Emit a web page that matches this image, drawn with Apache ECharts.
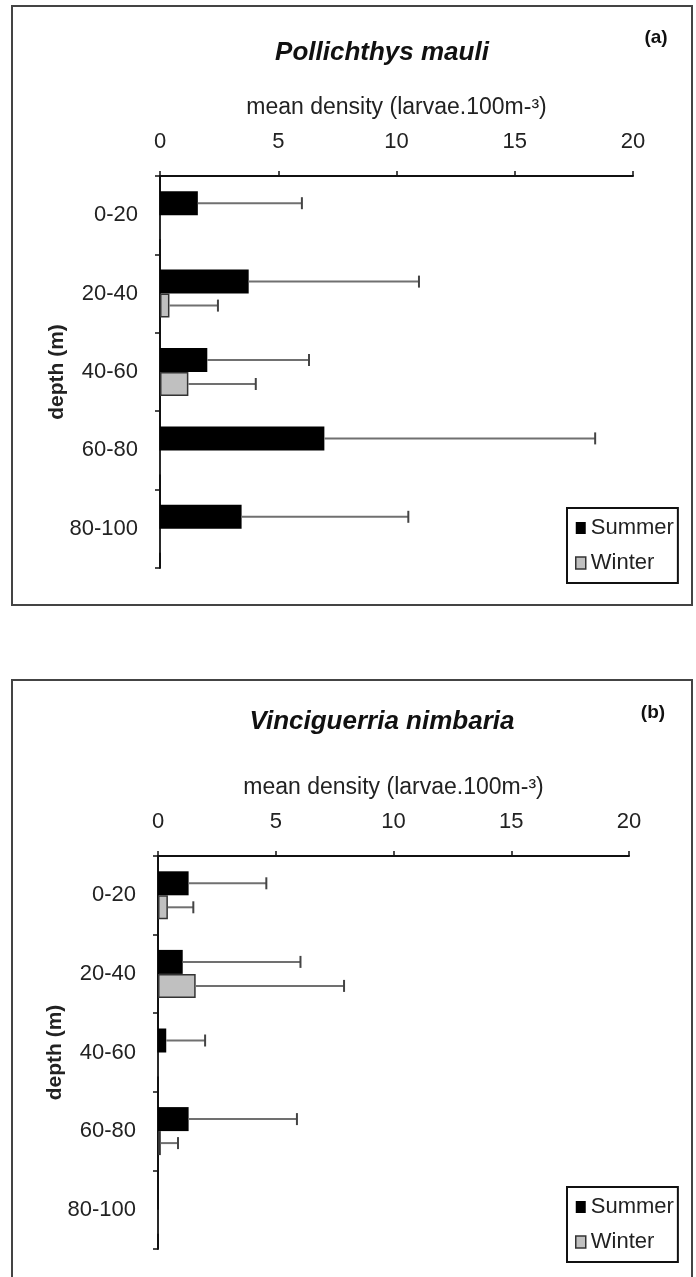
<!DOCTYPE html>
<html>
<head>
<meta charset="utf-8">
<script src="https://cdn.jsdelivr.net/npm/echarts@6/dist/echarts.min.js"></script>
<style>
html,body{margin:0;padding:0;background:#fff;}
#chart{width:696px;height:1277px;}
</style>
</head>
<body>
<div id="chart"></div>
<script>
// ---- data ----
const depthCats = ['0-20', '20-40', '40-60', '60-80', '80-100'];
const seasons = ['Summer', 'Winter'];
const panelTitles = ['Pollichthys mauli', 'Vinciguerria nimbaria'];
const panelTags = ['(a)', '(b)'];
const xAxisName = 'mean density (larvae.100m-\u00b3)';
const yAxisName = 'depth (m)';

// panel (a) Pollichthys mauli
const aSummer = [1.6, 3.75, 2.0, 6.95, 3.45];
const aSummerUpper = [6.0, 10.95, 6.3, 18.4, 10.5];
const aWinter = [0, 0.4, 1.2, 0, 0];
const aWinterUpper = [null, 2.45, 4.05, null, null];

// panel (b) Vinciguerria nimbaria
const bSummer = [1.3, 1.05, 0.35, 1.3, 0];
const bSummerUpper = [4.6, 6.05, 2.0, 5.9, null];
const bWinter = [0.42, 1.6, 0, 0.12, 0];
const bWinterUpper = [1.5, 7.9, null, 0.85, null];

// ---- chart ----
const FONT = 'Liberation Sans, Arial, sans-serif';
const chart = echarts.init(document.getElementById('chart'), null, {renderer: 'canvas'});

function errData(vals, ups) {
  const out = [];
  vals.forEach((v, i) => { if (ups[i] != null) out.push([i, v, ups[i]]); });
  return out;
}
function errRender(sign) {
  return function (params, api) {
    const idx = api.value(0);
    const s = api.coord([api.value(1), idx]);
    const e = api.coord([api.value(2), idx]);
    const y = s[1] + sign * 12;
    return {
      type: 'group',
      children: [
        {type: 'line', shape: {x1: s[0], y1: y, x2: e[0], y2: y}, style: {stroke: '#707070', lineWidth: 2}},
        {type: 'line', shape: {x1: e[0], y1: y - 6, x2: e[0], y2: y + 6}, style: {stroke: '#444', lineWidth: 2}}
      ]
    };
  };
}

const grids = [
  {left: 160, top: 176, width: 473, height: 392},
  {left: 158, top: 856, width: 471, height: 393}
];

function xAx(gi) {
  return {
    type: 'value', gridIndex: gi, position: 'top', min: 0, max: 20, interval: 5,
    name: xAxisName, nameLocation: 'middle', nameGap: 57,
    nameTextStyle: {fontFamily: FONT, fontSize: 23, color: '#222'},
    axisLine: {show: true, lineStyle: {color: '#111', width: 2}},
    axisTick: {show: true, length: 5, lineStyle: {color: '#111', width: 1.5}},
    axisLabel: {fontFamily: FONT, fontSize: 22, color: '#222', margin: 23},
    splitLine: {show: false}
  };
}
function yAx(gi) {
  return {
    type: 'category', gridIndex: gi, inverse: true, data: depthCats,
    name: yAxisName, nameLocation: 'middle', nameGap: 92, nameRotate: 90,
    nameMoveOverlap: false,
    nameTextStyle: {fontFamily: FONT, fontSize: 21, fontWeight: 'bold', color: '#222'},
    axisLine: {show: true, lineStyle: {color: '#111', width: 2}},
    axisTick: {show: true, length: 5, lineStyle: {color: '#111', width: 1.5}},
    axisLabel: {fontFamily: FONT, fontSize: 22, color: '#222', margin: 22}
  };
}

const summerStyle = {color: '#000', borderWidth: 0};
const winterStyle = {color: '#c0c0c0', borderColor: '#333', borderWidth: 1.5};

const panels = [
  {s: aSummer, su: aSummerUpper, w: aWinter, wu: aWinterUpper},
  {s: bSummer, su: bSummerUpper, w: bWinter, wu: bWinterUpper}
];

const series = [];
panels.forEach((p, gi) => {
  series.push({name: seasons[0], type: 'bar', xAxisIndex: gi, yAxisIndex: gi, data: p.s,
    barWidth: 24, barGap: '0%', itemStyle: summerStyle});
  series.push({name: seasons[1], type: 'bar', xAxisIndex: gi, yAxisIndex: gi, data: p.w,
    barWidth: 24, barGap: '0%', itemStyle: winterStyle});
  series.push({name: 'err-s-' + gi, type: 'custom', xAxisIndex: gi, yAxisIndex: gi,
    data: errData(p.s, p.su), encode: {x: [1, 2], y: 0}, renderItem: errRender(-1), z: 3});
  series.push({name: 'err-w-' + gi, type: 'custom', xAxisIndex: gi, yAxisIndex: gi,
    data: errData(p.w, p.wu), encode: {x: [1, 2], y: 0}, renderItem: errRender(1), z: 3});
});

function legend(top) {
  return {
    data: [
      {name: seasons[0], icon: 'rect', itemStyle: {color: '#000', borderWidth: 0}},
      {name: seasons[1], icon: 'rect', itemStyle: {color: '#c0c0c0', borderColor: '#333', borderWidth: 1.5}}
    ],
    orient: 'vertical', left: 567, top: top,
    padding: [9, 4, 9, 8], itemGap: 13, itemWidth: 10, itemHeight: 12,
    borderColor: '#111', borderWidth: 2, backgroundColor: '#fff',
    selectedMode: false,
    textStyle: {fontFamily: FONT, fontSize: 22, color: '#222', padding: [0, 0, 0, 0]}
  };
}

const option = {
  backgroundColor: '#fff',
  animation: false,
  grid: grids,
  xAxis: [xAx(0), xAx(1)],
  yAxis: [yAx(0), yAx(1)],
  legend: [legend(508), legend(1187)],
  series: series,
  graphic: [
    {type: 'rect', shape: {x: 12, y: 6, width: 680, height: 599}, style: {fill: 'none', stroke: '#444', lineWidth: 2}, z: -1},
    {type: 'rect', shape: {x: 12, y: 680, width: 680, height: 640}, style: {fill: 'none', stroke: '#444', lineWidth: 2}, z: -1},
    {type: 'text', x: 382, y: 53, style: {text: panelTitles[0], font: 'italic bold 26px ' + FONT, fill: '#111', textAlign: 'center', textVerticalAlign: 'middle'}},
    {type: 'text', x: 382, y: 722, style: {text: panelTitles[1], font: 'italic bold 26px ' + FONT, fill: '#111', textAlign: 'center', textVerticalAlign: 'middle'}},
    {type: 'text', x: 656, y: 38, style: {text: panelTags[0], font: 'bold 19px ' + FONT, fill: '#111', textAlign: 'center', textVerticalAlign: 'middle'}},
    {type: 'text', x: 653, y: 713, style: {text: panelTags[1], font: 'bold 19px ' + FONT, fill: '#111', textAlign: 'center', textVerticalAlign: 'middle'}}
  ]
};
chart.setOption(option);
</script>
</body>
</html>
